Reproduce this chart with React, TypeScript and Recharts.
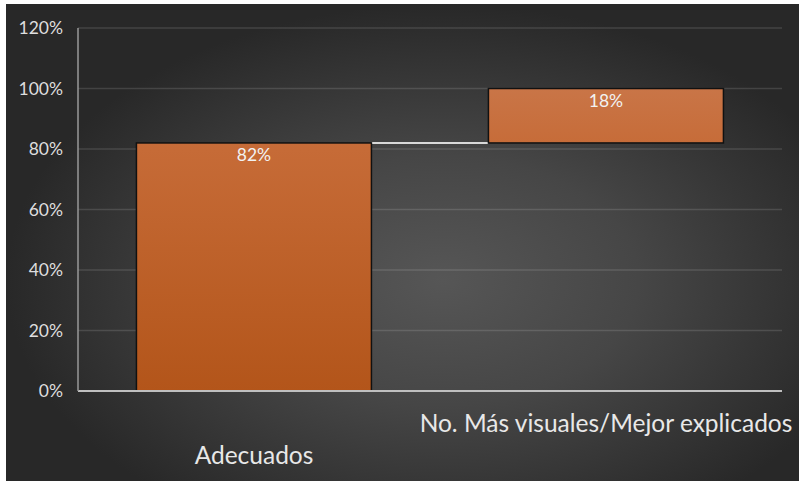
import { Bar, BarChart, CartesianGrid, LabelList, XAxis, YAxis } from 'recharts';

const categories = ['Adecuados', 'No. Más visuales/Mejor explicados'];
const values = [82, 18];
const yTicks = [0, 20, 40, 60, 80, 100, 120];

// waterfall: each step starts where the previous one ended
const bases = values.map((_, i) => values.slice(0, i).reduce((a, b) => a + b, 0));
const chartData = categories.map((name, i) => ({ name, base: bases[i], value: values[i] }));

const CATEGORY_GAP = 0.166;
const FONT = 'Lato, "Open Sans", sans-serif';

function StepShape(props: any) {
  const { x, y, width, height, index } = props;
  // distance to the next bar's left edge
  const connector =
    index < values.length - 1 ? (width * 2 * CATEGORY_GAP) / (1 - 2 * CATEGORY_GAP) : 0;
  return (
    <g>
      {connector > 0 && (
        <line
          x1={x + width}
          x2={x + width + connector}
          y1={y}
          y2={y}
          stroke="#d9d9d9"
          strokeWidth={2}
        />
      )}
      <rect
        x={x}
        y={y}
        width={width}
        height={height}
        fill="url(#stepFill)"
        stroke="#111"
        strokeWidth={1.5}
      />
    </g>
  );
}

function CategoryTick({ x, y, payload, index }: any) {
  const dy = index % 2 === 0 ? 73 : 41;
  return (
    <text
      x={x}
      y={y + dy}
      textAnchor="middle"
      fill="#e8e8e8"
      fontSize={24.5}
      fontFamily={FONT}
    >
      {payload.value}
    </text>
  );
}

export default function App() {
  return (
    <div style={{ width: 799, height: 481, background: '#fff', position: 'relative' }}>
      <style>{`body { margin: 0; }`}</style>
      <svg width={0} height={0} style={{ position: 'absolute' }}>
        <defs>
          <linearGradient id="stepFill" gradientUnits="userSpaceOnUse" x1={0} y1={85} x2={0} y2={387}>
            <stop offset="0%" stopColor="#c97547" />
            <stop offset="20%" stopColor="#c66b37" />
            <stop offset="100%" stopColor="#b3551a" />
          </linearGradient>
        </defs>
      </svg>
      <div
        style={{
          position: 'absolute',
          left: 6,
          top: 4,
          width: 793,
          height: 477,
          background:
            'radial-gradient(ellipse farthest-side at 55% 58%, #565656 0%, #464646 45%, #282828 100%)',
        }}
      >
        <BarChart
          width={793}
          height={477}
          data={chartData}
          margin={{ top: 24, right: 17, left: 0, bottom: 0 }}
          barCategoryGap={`${CATEGORY_GAP * 100}%`}
        >
          <CartesianGrid vertical={false} stroke="rgba(255,255,255,0.13)" strokeWidth={1.5} />
          <XAxis
            dataKey="name"
            interval={0}
            height={90}
            tickSize={0}
            tickMargin={0}
            axisLine={{ stroke: '#bfbfbf', strokeWidth: 2 }}
            tickLine={false}
            tick={<CategoryTick />}
          />
          <YAxis
            width={72}
            domain={[0, 120]}
            ticks={yTicks}
            tickSize={0}
            tickMargin={15}
            tickFormatter={(v) => `${v}%`}
            axisLine={{ stroke: '#999999', strokeWidth: 1.5 }}
            tickLine={false}
            tick={{ fill: '#dedede', fontSize: 17.5, fontFamily: FONT }}
          />
          <Bar dataKey="base" stackId="w" fill="transparent" isAnimationActive={false} />
          <Bar dataKey="value" stackId="w" shape={<StepShape />} isAnimationActive={false}>
            <LabelList
              dataKey="value"
              position="insideTop"
              offset={6}
              fill="#f2f2f2"
              fontSize={17.5}
              fontFamily={FONT}
              formatter={(v: any) => `${v}%`}
            />
          </Bar>
        </BarChart>
      </div>
    </div>
  );
}
